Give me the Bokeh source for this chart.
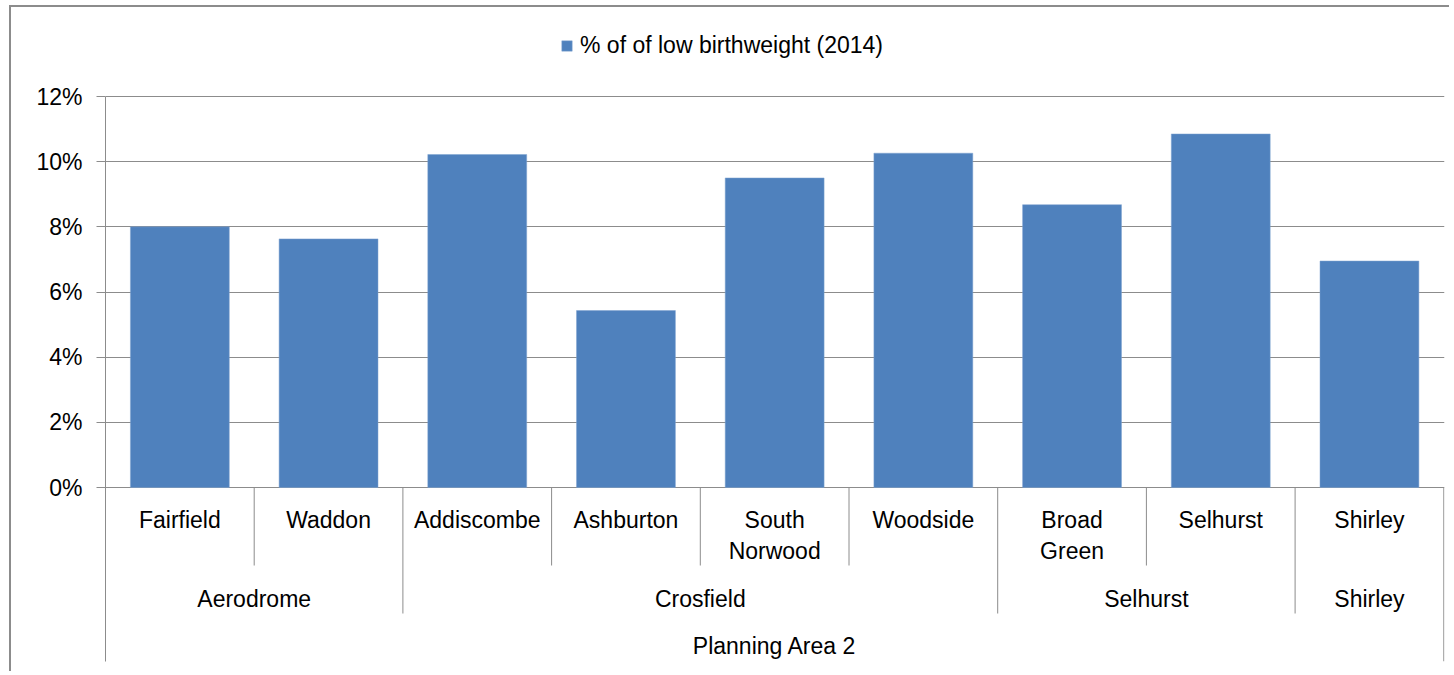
from itertools import groupby

from bokeh.plotting import figure
from bokeh.models import (ColumnDataSource, FixedTicker, Legend, LegendItem,
                          CustomJSTickFormatter, Range1d)
from bokeh.core.properties import value
from bokeh.embed import file_html
from bokeh.resources import INLINE

# ---------------- data ----------------
wards = ["Fairfield", "Waddon", "Addiscombe", "Ashburton", "South\nNorwood",
         "Woodside", "Broad\nGreen", "Selhurst", "Shirley"]
clusters = ["Aerodrome", "Aerodrome", "Crosfield", "Crosfield", "Crosfield",
            "Crosfield", "Selhurst", "Selhurst", "Shirley"]
area = "Planning Area 2"
pct_low_birthweight = [8.0, 7.63, 10.22, 5.43, 9.50, 10.26, 8.68, 10.85, 6.95]
series_name = "% of of low birthweight (2014)"
y_ticks = [0, 2, 4, 6, 8, 10, 12]

# ---------------- style ----------------
FONT = "Liberation Sans"
FS = "23px"
BLUE = "#4F81BD"
GRID = "#8C8C8C"

W, H = 1440, 666
LEFT, TOP = 94, 13
FRAME_W, FRAME_H = 1339, 641
TOP_PAD = 76                       # pixels from frame top to the 12% line
ZERO_PX = 467                      # pixels from frame top to the 0% line
PX_PER_UNIT = (ZERO_PX - TOP_PAD) / y_ticks[-1]
Y_MAX = y_ticks[-1] + TOP_PAD / PX_PER_UNIT
Y_MIN = -(FRAME_H - ZERO_PX) / PX_PER_UNIT


def below(px):
    """data y for a distance in pixels below the 0% line"""
    return -px / PX_PER_UNIT


n = len(wards)
xs = [i + 0.5 for i in range(n)]

p = figure(width=W, height=H,
           x_range=Range1d(0, n + 0.7 / (FRAME_W / n)),
           y_range=Range1d(Y_MIN, Y_MAX),
           output_backend="svg", toolbar_location=None,
           x_axis_location=None,
           min_border_left=LEFT, min_border_top=TOP,
           min_border_right=W - LEFT - FRAME_W,
           min_border_bottom=H - TOP - FRAME_H)
p.styles = {"margin-left": "9px", "margin-top": "5px",
            "border-left": "2px solid #8c8c8c", "border-top": "2px solid #8c8c8c"}
p.outline_line_color = None
p.background_fill_color = "white"
p.border_fill_color = "white"

# y axis
p.yaxis.ticker = FixedTicker(ticks=y_ticks)
p.yaxis.bounds = (Y_MIN, y_ticks[-1])
p.yaxis.formatter = CustomJSTickFormatter(code="return tick + '%';")
p.yaxis.axis_line_color = GRID
p.yaxis.major_tick_line_color = GRID
p.yaxis.major_tick_out = 9
p.yaxis.major_tick_in = 0
p.yaxis.minor_tick_line_color = None
p.yaxis.major_label_text_font = FONT
p.yaxis.major_label_text_font_size = FS
p.yaxis.major_label_text_color = "black"
p.yaxis.major_label_standoff = 14

p.ygrid.ticker = FixedTicker(ticks=y_ticks)
p.ygrid.grid_line_color = GRID
p.ygrid.grid_line_width = 1
p.xgrid.visible = False

# bars
src = ColumnDataSource(dict(x=xs, top=pct_low_birthweight, ward=wards))
bars = p.vbar(x="x", top="top", bottom=0, width=0.665, source=src,
              fill_color=BLUE, line_color="#7FA3D0", line_width=0.5)

# category labels (level 1)
p.text(x="x", y=0, text="ward", source=src, text_font=value(FONT),
       text_font_size=FS, text_align="center", text_baseline="top",
       text_line_height=1.22, y_offset=19, text_color="black")

# level 2 (cluster) labels
spans = []
start = 0
for name, grp in groupby(clusters):
    k = len(list(grp))
    spans.append((name, start, start + k))
    start += k
p.text(x=[(a + b) / 2 for _, a, b in spans], y=[0] * len(spans),
       text=[s[0] for s in spans], text_font=value(FONT), text_font_size=FS,
       text_align="center", text_baseline="middle", y_offset=111,
       text_color="black")

# level 3 label
p.text(x=[n / 2], y=[0], text=[area], text_font=value(FONT),
       text_font_size=FS, text_align="center", text_baseline="middle",
       y_offset=158, text_color="black")

# separators
group_edges = {b for _, a, b in spans}
inner = [i for i in range(1, n) if i not in group_edges]
grp = [b for _, a, b in spans if b < n]
p.segment(x0=inner, x1=inner, y0=[0] * len(inner), y1=[below(78)] * len(inner),
          line_color=GRID, line_width=1)
p.segment(x0=grp, x1=grp, y0=[0] * len(grp), y1=[below(126)] * len(grp),
          line_color=GRID, line_width=1)
p.segment(x0=[n], x1=[n], y0=[0], y1=[Y_MIN], line_color=GRID, line_width=1)

# legend
legend = Legend(items=[LegendItem(label=series_name, renderers=[bars])],
                location=(455, 602), orientation="horizontal",
                padding=0, margin=0, border_line_color=None,
                background_fill_alpha=0, label_text_font=FONT,
                label_text_font_size=FS, glyph_width=13, glyph_height=13,
                label_height=24, label_standoff=7, label_text_color="black")
p.add_layout(legend, "center")

open("out.html", "w").write(file_html(p, INLINE))
